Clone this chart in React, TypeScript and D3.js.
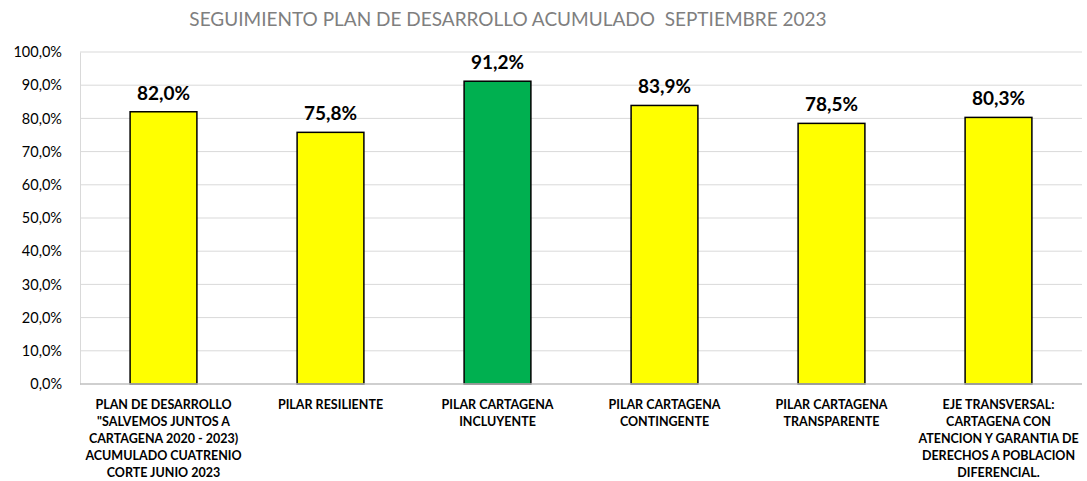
import React, { useEffect, useRef } from 'react';
import * as d3 from 'd3';

const categories = [
  'PLAN DE DESARROLLO|"SALVEMOS JUNTOS A|CARTAGENA 2020 - 2023)|ACUMULADO CUATRENIO|CORTE JUNIO 2023',
  'PILAR RESILIENTE',
  'PILAR CARTAGENA|INCLUYENTE',
  'PILAR CARTAGENA|CONTINGENTE',
  'PILAR CARTAGENA|TRANSPARENTE',
  'EJE TRANSVERSAL:|CARTAGENA CON|ATENCION Y GARANTIA DE|DERECHOS A POBLACION|DIFERENCIAL.',
];
const values = [82.0, 75.8, 91.2, 83.9, 78.5, 80.3];
const barColors = ['#FFFF00', '#FFFF00', '#00B050', '#FFFF00', '#FFFF00', '#FFFF00'];
const yTicks = [0, 10, 20, 30, 40, 50, 60, 70, 80, 90, 100];
const title = 'SEGUIMIENTO PLAN DE DESARROLLO ACUMULADO  SEPTIEMBRE 2023';

const fmt = (v: number) => v.toFixed(1).replace('.', ',') + '%';

export default function App() {
  const svgRef = useRef<SVGSVGElement>(null);

  useEffect(() => {
    const w = 1087;
    const h = 481;
    const m = { left: 80, right: 5, top: 52, bottom: 97 };
    const font = 'Lato, "Open Sans", sans-serif';
    const svg = d3.select(svgRef.current)
      .attr('width', w)
      .attr('height', h)
      .style('position', 'absolute')
      .style('left', '0px')
      .style('top', '0px')
      .style('background', '#fff');
    svg.selectAll('*').remove();

    const x = d3.scaleBand()
      .domain(categories)
      .range([m.left, w - m.right])
      .paddingInner(0.6)
      .paddingOuter(0.3);
    const y = d3.scaleLinear()
      .domain([0, 100])
      .range([h - m.bottom, m.top]);

    // title
    svg.append('text')
      .attr('x', 508).attr('y', 26)
      .attr('text-anchor', 'middle')
      .style('white-space', 'pre')
      .style('font-family', font)
      .style('font-size', '19px')
      .style('fill', '#7f7f7f')
      .text(title);

    // gridlines
    svg.append('g')
      .selectAll('line')
      .data(yTicks.slice(1))
      .join('line')
      .attr('x1', m.left).attr('x2', w - m.right)
      .attr('y1', d => y(d)).attr('y2', d => y(d))
      .attr('stroke', '#d9d9d9').attr('stroke-width', 1);

    // y axis
    const yAxis = d3.axisLeft(y).tickValues(yTicks).tickFormat(d => fmt(+d)).tickSize(0).tickPadding(18);
    const gy = svg.append('g').attr('transform', `translate(${m.left},0)`).call(yAxis);
    gy.select('.domain').attr('stroke', '#d9d9d9');
    gy.selectAll('text')
      .style('font-family', font)
      .style('font-size', '14.5px')
      .style('fill', '#000');

    // bars
    svg.append('g')
      .selectAll('rect')
      .data(values)
      .join('rect')
      .attr('x', (d, i) => x(categories[i])!)
      .attr('width', x.bandwidth())
      .attr('y', d => y(d))
      .attr('height', d => y(0) - y(d))
      .attr('fill', (d, i) => barColors[i])
      .attr('stroke', '#000')
      .attr('stroke-width', 1.5);

    // baseline
    svg.append('line')
      .attr('x1', m.left).attr('x2', w - m.right)
      .attr('y1', y(0)).attr('y2', y(0))
      .attr('stroke', '#bfbfbf').attr('stroke-width', 1.5);

    // value labels
    svg.append('g')
      .selectAll('text')
      .data(values)
      .join('text')
      .attr('x', (d, i) => x(categories[i])! + x.bandwidth() / 2)
      .attr('y', d => y(d) - 12)
      .attr('text-anchor', 'middle')
      .style('font-family', font)
      .style('font-size', '19px')
      .style('font-weight', 'bold')
      .style('fill', '#000')
      .text(d => fmt(d));

    // category labels
    const cat = svg.append('g')
      .selectAll('text')
      .data(categories)
      .join('text')
      .attr('x', d => x(d)! + x.bandwidth() / 2)
      .attr('y', y(0) + 25)
      .attr('text-anchor', 'middle')
      .style('font-family', font)
      .style('font-size', '12.5px')
      .style('font-weight', 'bold')
      .style('fill', '#000');
    cat.selectAll('tspan')
      .data(d => d.split('|'))
      .join('tspan')
      .attr('x', function () {
        return (this.parentNode as SVGTextElement).getAttribute('x');
      })
      .attr('dy', (d, i) => (i === 0 ? 0 : 17))
      .text(d => d);
  }, []);

  return <svg ref={svgRef}></svg>;
}
